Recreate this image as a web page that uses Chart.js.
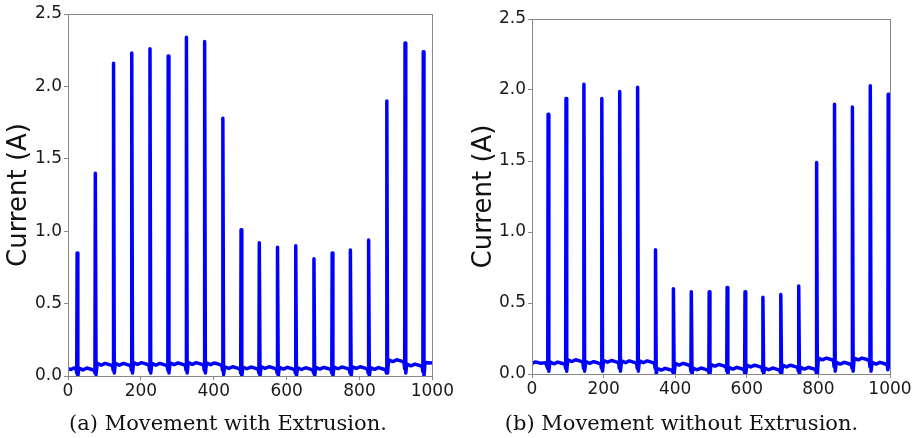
<!DOCTYPE html>
<html>
<head>
<meta charset="utf-8">
<script src="https://cdn.jsdelivr.net/npm/chart.js@4.4.1/dist/chart.umd.min.js"></script>
<style>
  body { margin: 0; background: #fff; }
  canvas { position: absolute; top: 0; }
  #chartA { left: 0; }
  #chartB { left: 455px; }
</style>
</head>
<body>
<canvas id="chartA" width="455" height="438"></canvas>
<canvas id="chartB" width="460" height="438"></canvas>
<script>
// sample index (x) and motor current in A (y)
const timeA = [
  0, 8, 16, 22,
  24, 25, 27, 30, 41, 52, 63, 72,
  74, 75, 77, 80, 91, 102, 113, 122,
  124, 125, 127, 130, 141, 152, 163, 172,
  174, 175, 177, 180, 191, 202, 213, 222,
  224, 225, 227, 230, 241, 252, 263, 272,
  274, 275, 277, 280, 291, 302, 313, 322,
  324, 325, 327, 330, 341, 352, 363, 372,
  374, 375, 377, 380, 391, 402, 413, 422,
  424, 425, 427, 430, 441, 452, 463, 472,
  474, 475, 477, 480, 491, 502, 513, 522,
  524, 525, 527, 530, 541, 552, 563, 572,
  574, 575, 577, 580, 591, 602, 613, 622,
  624, 625, 627, 630, 641, 652, 663, 672,
  674, 675, 677, 680, 691, 702, 713, 722,
  724, 725, 727, 730, 741, 752, 763, 772,
  774, 775, 777, 780, 791, 802, 813, 822,
  824, 825, 827, 830, 841, 852, 863, 872,
  874, 875, 877, 880, 891, 902, 913, 922,
  924, 925, 927, 930, 941, 952, 963, 972,
  974, 975, 977, 980, 990, 1000
];
const currentA = [
  0.05, 0.045, 0.055, 0.05,
  0.02, 0.85, 0.00, 0.055, 0.042, 0.055, 0.047, 0.04,
  0.02, 1.40, 0.01, 0.088, 0.075, 0.087, 0.079, 0.071,
  0.04, 2.16, 0.02, 0.087, 0.075, 0.087, 0.079, 0.071,
  0.04, 2.23, 0.02, 0.092, 0.08, 0.092, 0.084, 0.076,
  0.04, 2.26, 0.02, 0.087, 0.075, 0.087, 0.079, 0.071,
  0.04, 2.21, 0.02, 0.09, 0.078, 0.09, 0.082, 0.074,
  0.04, 2.34, 0.02, 0.092, 0.08, 0.092, 0.084, 0.076,
  0.04, 2.31, 0.02, 0.09, 0.078, 0.09, 0.082, 0.074,
  0.04, 1.78, 0.01, 0.064, 0.052, 0.064, 0.056, 0.048,
  0.02, 1.01, 0.00, 0.062, 0.05, 0.062, 0.054, 0.046,
  0.02, 0.92, 0.00, 0.064, 0.052, 0.064, 0.056, 0.048,
  0.02, 0.89, 0.00, 0.06, 0.048, 0.06, 0.052, 0.044,
  0.02, 0.90, 0.00, 0.057, 0.045, 0.057, 0.049, 0.041,
  0.02, 0.81, 0.00, 0.06, 0.048, 0.06, 0.052, 0.044,
  0.02, 0.85, 0.00, 0.062, 0.05, 0.062, 0.054, 0.046,
  0.02, 0.87, 0.00, 0.064, 0.052, 0.064, 0.056, 0.048,
  0.02, 0.94, 0.00, 0.058, 0.046, 0.058, 0.05, 0.042,
  0.02, 1.90, 0.02, 0.112, 0.1, 0.112, 0.104, 0.096,
  0.05, 2.30, 0.02, 0.082, 0.07, 0.082, 0.074, 0.066,
  0.03, 2.24, 0.00, 0.095, 0.09, 0.092
];

const timeB = [
  0, 10, 25, 38,
  44, 45, 47, 50, 61, 72, 83, 92,
  94, 95, 97, 100, 111, 122, 133, 142,
  144, 145, 147, 150, 161, 172, 183, 192,
  194, 195, 197, 200, 211, 222, 233, 242,
  244, 245, 247, 250, 261, 272, 283, 292,
  294, 295, 297, 300, 311, 322, 333, 342,
  344, 345, 347, 350, 361, 372, 383, 392,
  394, 395, 397, 400, 411, 422, 433, 442,
  444, 445, 447, 450, 461, 472, 483, 492,
  494, 495, 497, 500, 511, 522, 533, 542,
  544, 545, 547, 550, 561, 572, 583, 592,
  594, 595, 597, 600, 611, 622, 633, 642,
  644, 645, 647, 650, 661, 672, 683, 692,
  694, 695, 697, 700, 711, 722, 733, 742,
  744, 745, 747, 750, 761, 772, 783, 792,
  794, 795, 797, 800, 811, 822, 833, 842,
  844, 845, 847, 850, 861, 872, 883, 892,
  894, 895, 897, 900, 911, 922, 933, 942,
  944, 945, 947, 950, 961, 972, 983, 992,
  994, 995, 997, 1000
];
const currentB = [
  0.075, 0.085, 0.075, 0.08,
  0.04, 1.83, 0.02, 0.085, 0.072, 0.084, 0.076, 0.068,
  0.04, 1.94, 0.02, 0.1, 0.088, 0.1, 0.092, 0.084,
  0.04, 2.04, 0.02, 0.087, 0.075, 0.087, 0.079, 0.071,
  0.04, 1.94, 0.02, 0.095, 0.083, 0.095, 0.087, 0.079,
  0.04, 1.99, 0.02, 0.092, 0.08, 0.092, 0.084, 0.076,
  0.04, 2.02, 0.02, 0.092, 0.08, 0.092, 0.084, 0.076,
  0.04, 0.875, 0.00, 0.04, 0.028, 0.04, 0.032, 0.024,
  0.01, 0.60, 0.00, 0.075, 0.063, 0.075, 0.067, 0.059,
  0.02, 0.58, 0.00, 0.042, 0.03, 0.042, 0.034, 0.026,
  0.01, 0.58, 0.00, 0.067, 0.055, 0.067, 0.059, 0.051,
  0.02, 0.61, 0.00, 0.047, 0.035, 0.047, 0.039, 0.031,
  0.01, 0.58, 0.00, 0.062, 0.05, 0.062, 0.054, 0.046,
  0.02, 0.54, 0.00, 0.042, 0.03, 0.042, 0.034, 0.026,
  0.01, 0.56, 0.00, 0.062, 0.05, 0.062, 0.054, 0.046,
  0.02, 0.62, 0.00, 0.047, 0.035, 0.047, 0.039, 0.031,
  0.01, 1.49, 0.00, 0.112, 0.1, 0.112, 0.104, 0.096,
  0.05, 1.90, 0.02, 0.082, 0.07, 0.082, 0.074, 0.066,
  0.04, 1.88, 0.02, 0.112, 0.1, 0.112, 0.104, 0.096,
  0.05, 2.03, 0.02, 0.082, 0.07, 0.082, 0.074, 0.066,
  0.03, 1.97, 0.05, 0.05
];

const xTicks = [0, 200, 400, 600, 800, 1000];
const yTicks = [0, 0.5, 1.0, 1.5, 2.0, 2.5];
const yTitle = "Current (A)";
const captionA = "(a) Movement with Extrusion.";
const captionB = "(b) Movement without Extrusion.";

// frame, y title and caption drawn on top of each panel
const panelDeco = {
  id: 'panelDeco',
  afterDraw(chart, args, opts) {
    const ctx = chart.ctx;
    const a = chart.chartArea;
    ctx.save();
    ctx.strokeStyle = '#888';
    ctx.lineWidth = 1;
    ctx.strokeRect(Math.round(a.left) + 0.5, Math.round(a.top) + 0.5,
      Math.round(a.right - a.left), Math.round(a.bottom - a.top));

    ctx.fillStyle = '#111';
    ctx.font = '26px "DejaVu Sans"';
    ctx.textAlign = 'center';
    ctx.textBaseline = 'middle';
    ctx.translate(opts.titleX, (a.top + a.bottom) / 2);
    ctx.rotate(-Math.PI / 2);
    ctx.fillText(yTitle, 0, 0);
    ctx.restore();

    ctx.save();
    ctx.fillStyle = '#111';
    ctx.font = '21px "DejaVu Serif"';
    ctx.textAlign = 'center';
    ctx.textBaseline = 'middle';
    ctx.fillText(opts.caption, opts.captionX, 425);
    ctx.restore();
  }
};

function makePanel(id, xs, ys, p) {
  const points = xs.map((x, i) => ({ x: x, y: ys[i] }));
  return new Chart(document.getElementById(id), {
    type: 'line',
    data: {
      datasets: [{
        data: points,
        borderColor: '#0000ff',
        borderWidth: 3.5,
        borderJoinStyle: 'round',
        pointRadius: 0,
        tension: 0,
        fill: false
      }]
    },
    options: {
      responsive: false,
      animation: false,
      events: [],
      layout: { padding: { top: p.top, right: p.right, left: 0, bottom: 0 } },
      plugins: {
        legend: { display: false },
        tooltip: { enabled: false },
        panelDeco: { titleX: p.titleX, caption: p.caption, captionX: p.captionX }
      },
      scales: {
        x: {
          type: 'linear',
          min: 0,
          max: 1000,
          afterBuildTicks: (s) => { s.ticks = xTicks.map(v => ({ value: v })); },
          afterFit: (s) => { s.height = p.xHeight; },
          border: { display: false },
          grid: { drawOnChartArea: false, drawTicks: true, tickLength: 4, color: '#888' },
          ticks: {
            color: '#1a1a1a',
            font: { family: 'DejaVu Sans', size: 17 },
            padding: 1,
            maxRotation: 0,
            autoSkip: false,
            callback: (v) => String(v)
          }
        },
        y: {
          min: 0,
          max: 2.5,
          afterBuildTicks: (s) => { s.ticks = yTicks.map(v => ({ value: v })); },
          afterFit: (s) => { s.width = p.yWidth; },
          border: { display: false },
          grid: { drawOnChartArea: false, drawTicks: true, tickLength: 4, color: '#888' },
          ticks: {
            color: '#1a1a1a',
            font: { family: 'DejaVu Sans', size: 17 },
            padding: 2,
            callback: (v) => Number(v).toFixed(1)
          }
        }
      }
    },
    plugins: [panelDeco]
  });
}

makePanel('chartA', timeA, currentA, {
  top: 14, right: 21, yWidth: 68, xHeight: 62, titleX: 19, caption: captionA, captionX: 228
});
makePanel('chartB', timeB, currentB, {
  top: 19, right: 25, yWidth: 77, xHeight: 64, titleX: 29, caption: captionB, captionX: 226.5
});
</script>
</body>
</html>
